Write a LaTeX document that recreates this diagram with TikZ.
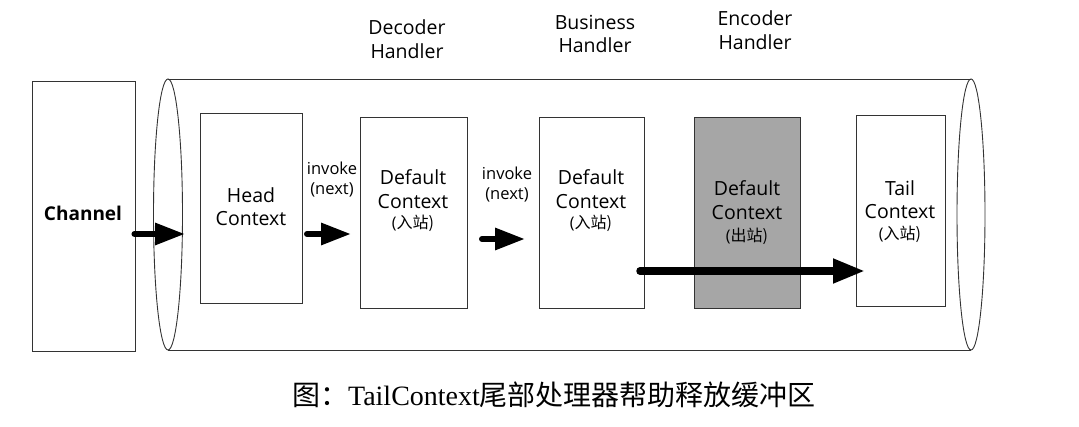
\documentclass[tikz,border=0pt]{standalone}
\usepackage{fontspec}
\setmainfont{Open Sans}
\newfontfamily\cjk{Noto Sans CJK SC}
\newfontfamily\capserif{Liberation Serif}
\usetikzlibrary{arrows.meta}
\definecolor{encgray}{HTML}{A6A6A6}
\begin{document}
\begin{tikzpicture}[x=1pt,y=-1pt,
 line/.style={draw=black!80, line width=0.9pt},
 box/.style={line, fill=white, inner sep=0pt},
 lbl/.style={align=center, font=\fontsize{19.5}{23.5}\selectfont, inner sep=0pt},
 small/.style={align=center, font=\fontsize{16.5}{20}\selectfont, inner sep=0pt},
 sub/.style={inner sep=0pt, font=\fontsize{16}{18}\selectfont},
 flow/.style={line width=6pt, line cap=round, -{Triangle[length=30pt,width=21pt]}},
 bigflow/.style={line width=7.5pt, line cap=round, -{Triangle[length=32pt,width=23pt]}},
]
\useasboundingbox (0,0) rectangle (1079,427);
% cylinder
\fill[white] (168,79) rectangle (971,350);
\draw[line] (168,79) -- (971,79) (168,350) -- (971,350);
\draw[line] (971,214.5) ellipse [x radius=14, y radius=135.5];
\draw[line] (168,214.5) ellipse [x radius=14.5, y radius=135.5];

% boxes
\node[box, minimum width=103pt, minimum height=270pt] (channel) at (83.5,216) {};
\node[box, minimum width=102pt, minimum height=190pt] (head) at (251,208) {};
\node[box, minimum width=107pt, minimum height=191pt] (dec) at (413.5,212.5) {};
\node[box, minimum width=105pt, minimum height=191pt] (bus) at (591.5,212.5) {};
\node[box, fill=encgray, minimum width=106pt, minimum height=191pt] (enc) at (747,212.5) {};
\node[box, minimum width=89pt, minimum height=191pt] (tail) at (900.5,210.5) {};

% labels
\node[lbl, font=\bfseries\fontsize{19}{22}\selectfont] (chl) at (83,213) {Channel};
\node[lbl] (headl) at (251,206.5) {Head\\Context};
\node[lbl] (decl) at (413,189) {Default\\Context};
\node[sub] (decs) at (413,223) {(\cjk 入站)};
\node[lbl] (busl) at (591,189) {Default\\Context};
\node[sub] (buss) at (591,223) {(\cjk 入站)};
\node[lbl] (encl) at (747,200) {Default\\Context};
\node[sub] (encs) at (747,236) {(\cjk 出站)};
\node[lbl] (taill) at (900,199.5) {Tail\\Context};
\node[sub] (tails) at (900,234) {(\cjk 入站)};

\node[lbl] (dech) at (407,39) {Decoder\\Handler};
\node[lbl] (bush) at (595,34) {Business\\Handler};
\node[lbl] (ench) at (755,30) {Encoder\\Handler};

\node[small] (inv1) at (332,180) {invoke\\(next)};
\node[small] (inv2) at (507,185) {invoke\\(next)};

% arrows
\coordinate (a0e) at (185,234);
\draw[flow] (channel.east |- a0e) ++(-1,0) -- (a0e);
\coordinate (a1s) at (307,234);
\coordinate (a1e) at (351,234);
\draw[flow] (a1s) -- (a1e);
\coordinate (a2s) at (482,239);
\coordinate (a2e) at (525,239);
\draw[flow] (a2s) -- (a2e);
\coordinate (a3s) at (640,271);
\coordinate (a3e) at (865,271);
\draw[bigflow] (a3s) -- (a3e);

% caption
\node[inner sep=0pt, font=\fontsize{28}{31}\selectfont] (cap) at (554,395)
  {{\cjk 图：}{\capserif TailContext}{\cjk 尾部处理器帮助释放缓冲区}};
\end{tikzpicture}
\end{document}
